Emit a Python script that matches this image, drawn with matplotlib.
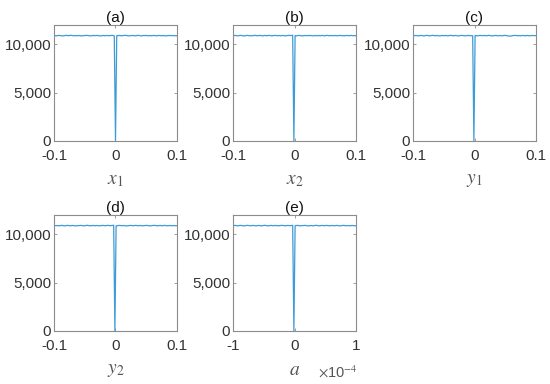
import numpy as np
import matplotlib
matplotlib.use("Agg")
import matplotlib.pyplot as plt
from matplotlib.ticker import FixedLocator, FuncFormatter

plt.rcParams['font.family'] = ['Liberation Sans', 'DejaVu Sans']
plt.rcParams['axes.unicode_minus'] = False
plt.rcParams['mathtext.fontset'] = 'stix'

titles = ['(a)', '(b)', '(c)', '(d)', '(e)']
xlabels = ['$x_1$', '$x_2$', '$y_1$', '$y_2$', '$a$']
x_ranges = [(-0.1, 0.1), (-0.1, 0.1), (-0.1, 0.1), (-0.1, 0.1), (-1e-4, 1e-4)]
x_ticklabels = [['-0.1', '0', '0.1']] * 4 + [['-1', '0', '1']]
y_ticks = [0, 5000, 10000]

counts_a = [10910, 10895, 10880, 10900, 10925, 10905, 10890, 10870, 10885, 10915,
            10930, 10905, 10900, 10920, 10935, 10910, 10885, 10895, 10905, 10880,
            10920, 10900, 10875, 10890, 10895, 10910, 10930, 10915, 10900, 10885,
            10880, 10895, 10910, 10920, 10890, 10925, 10905, 10880, 10870, 10895,
            10915, 10900, 10890, 10920, 10905, 10895, 10910, 10930, 10915, 10880,
            0,
            10890, 10905, 10915, 10895, 10880, 10905, 10925, 10930, 10910, 10895,
            10875, 10890, 10910, 10920, 10900, 10885, 10895, 10935, 10915, 10890,
            10870, 10900, 10915, 10905, 10925, 10895, 10880, 10910, 10885, 10900,
            10920, 10905, 10890, 10880, 10925, 10910, 10895, 10900, 10920, 10885,
            10875, 10895, 10915, 10905, 10920, 10890, 10900, 10910, 10880, 10905]
counts_b = [10895, 10910, 10920, 10900, 10880, 10905, 10930, 10910, 10890, 10870,
            10885, 10910, 10925, 10900, 10885, 10895, 10880, 10915, 10935, 10900,
            10895, 10905, 10920, 10910, 10875, 10890, 10920, 10905, 10895, 10910,
            10930, 10885, 10880, 10900, 10915, 10925, 10890, 10900, 10910, 10885,
            10905, 10920, 10895, 10880, 10900, 10910, 10930, 10905, 10920, 10940,
            0,
            10905, 10880, 10895, 10925, 10910, 10890, 10870, 10900, 10915, 10895,
            10920, 10885, 10930, 10900, 10895, 10875, 10905, 10915, 10890, 10900,
            10910, 10885, 10925, 10905, 10880, 10895, 10935, 10910, 10890, 10900,
            10920, 10880, 10905, 10915, 10895, 10885, 10910, 10925, 10900, 10890,
            10905, 10880, 10920, 10910, 10895, 10900, 10930, 10905, 10890, 10910, 10895]
counts_c = [10885, 10900, 10915, 10905, 10880, 10895, 10910, 10920, 10890, 10870,
            10900, 10925, 10915, 10895, 10880, 10905, 10935, 10910, 10890, 10900,
            10920, 10885, 10875, 10900, 10915, 10895, 10905, 10920, 10880, 10890,
            10910, 10930, 10905, 10885, 10895, 10915, 10900, 10870, 10890, 10910,
            10925, 10905, 10895, 10880, 10900, 10920, 10910, 10885, 10905, 10890,
            0,
            10915, 10900, 10880, 10895, 10925, 10910, 10890, 10905, 10920, 10885,
            10900, 10930, 10915, 10895, 10870, 10890, 10905, 10920, 10900, 10880,
            10910, 10895, 10885, 10905, 10930, 10915, 10895, 10870, 10860, 10845,
            10880, 10900, 10915, 10925, 10905, 10890, 10910, 10880, 10895, 10920,
            10905, 10885, 10900, 10915, 10895, 10880, 10905, 10920, 10900, 10910, 10895]
counts_d = [10920, 10905, 10895, 10910, 10880, 10900, 10925, 10915, 10890, 10875,
            10900, 10930, 10910, 10885, 10895, 10920, 10905, 10880, 10870, 10895,
            10915, 10900, 10925, 10905, 10890, 10880, 10910, 10935, 10915, 10895,
            10885, 10900, 10920, 10905, 10890, 10915, 10900, 10880, 10895, 10910,
            10925, 10905, 10890, 10900, 10935, 10915, 10895, 10905, 10920, 10940,
            0,
            10880, 10895, 10910, 10925, 10905, 10890, 10915, 10900, 10880, 10870,
            10895, 10910, 10920, 10905, 10885, 10900, 10930, 10910, 10890, 10905,
            10920, 10895, 10880, 10900, 10915, 10925, 10905, 10890, 10875, 10895,
            10910, 10930, 10915, 10900, 10885, 10895, 10920, 10905, 10890, 10910,
            10925, 10900, 10880, 10895, 10915, 10905, 10890, 10900, 10910, 10885, 10900]
counts_e = [10900, 10910, 10920, 10895, 10880, 10905, 10925, 10910, 10890, 10870,
            10895, 10915, 10930, 10905, 10885, 10900, 10920, 10910, 10890, 10875,
            10905, 10920, 10900, 10885, 10895, 10915, 10935, 10910, 10895, 10880,
            10900, 10925, 10905, 10890, 10910, 10920, 10900, 10885, 10895, 10910,
            10930, 10915, 10895, 10880, 10905, 10920, 10910, 10895, 10915, 10930,
            0,
            10895, 10910, 10925, 10905, 10880, 10890, 10915, 10905, 10925, 10910,
            10890, 10870, 10895, 10910, 10900, 10885, 10905, 10935, 10915, 10895,
            10885, 10900, 10920, 10905, 10890, 10910, 10925, 10900, 10880, 10895,
            10915, 10905, 10890, 10900, 10920, 10910, 10885, 10875, 10900, 10915,
            10925, 10905, 10890, 10910, 10895, 10880, 10905, 10920, 10900, 10890, 10885]
all_counts = [counts_a, counts_b, counts_c, counts_d, counts_e]

fig = plt.figure(figsize=(5.5, 3.84), dpi=100)
W, H = 550, 384
lefts = [54, 233, 413, 54, 233]
tops = [25, 25, 25, 215, 215]
aw, ah = 123, 116

line_color = '#3d9bd6'
axis_color = '#8c8c8c'
text_color = '#333333'

for i in range(5):
    ax = fig.add_axes([lefts[i] / W, 1 - (tops[i] + ah) / H, aw / W, ah / H])
    lo, hi = x_ranges[i]
    counts = all_counts[i]
    xs = np.linspace(lo, hi, len(counts))
    ax.plot(xs, counts, color=line_color, lw=0.9)
    ax.set_xlim(lo, hi)
    ax.set_ylim(0, 12000)
    ax.xaxis.set_major_locator(FixedLocator([lo, 0, hi]))
    ax.set_xticklabels(x_ticklabels[i])
    ax.yaxis.set_major_locator(FixedLocator(y_ticks))
    ax.yaxis.set_major_formatter(FuncFormatter(lambda v, p: f'{int(v):,}'))
    for s in ax.spines.values():
        s.set_color(axis_color)
        s.set_linewidth(0.8)
    ax.tick_params(direction='in', length=2, width=0.6, color=axis_color,
                   labelsize=11, labelcolor=text_color, top=True, right=True)
    ax.tick_params(axis='x', pad=6)
    ax.tick_params(axis='y', pad=2)
    ax.set_title(titles[i], fontsize=11, color='#111111', pad=2)
    ax.set_xlabel(xlabels[i], fontsize=14, color='#555555', labelpad=6)
    if i == 4:
        ax.text(0.85, -0.36, r'$\times$10$^{-4}$', transform=ax.transAxes,
                fontsize=10.5, color='#555555', ha='center', va='center',
                family=['Liberation Sans', 'DejaVu Sans'])

fig.savefig('out.png', dpi=100)
